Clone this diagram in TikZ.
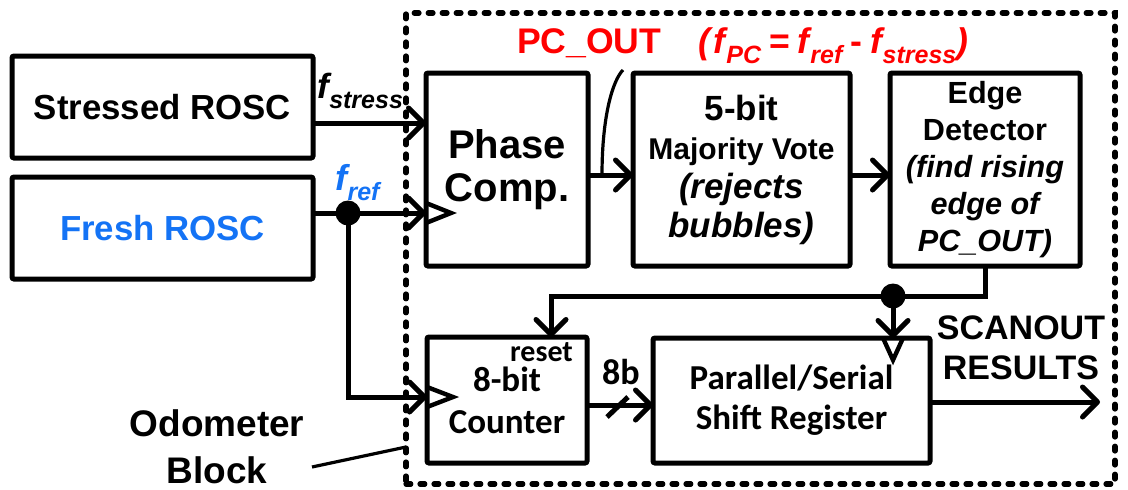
\documentclass[tikz,border=0pt]{standalone}
\usepackage{fontspec}
\setmainfont{Liberation Sans}
\newfontfamily\carlito{Carlito}
\usetikzlibrary{arrows.meta,calc}
\definecolor{sigred}{RGB}{255,0,0}
\definecolor{sigblue}{RGB}{20,115,245}
% frequency symbol: bold italic f with a lowered subscript
\newcommand{\fsub}[1]{{\bfseries\itshape f\kern0.3pt\raisebox{-0.3em}{\fontsize{12.5}{12.5}\selectfont #1}}}
\newcommand{\fsz}[2]{\fontsize{#1}{#2}\selectfont}

\begin{document}
\begin{tikzpicture}[x=0.5pt,y=-0.5pt,
  box/.style={draw,line width=2.5pt,rounded corners=1pt,inner sep=0pt,outer sep=0pt,align=center},
  wire/.style={line width=2.5pt,line join=miter},
  arr/.style={wire,-{Straight Barb[length=7.5pt,width=15pt,round]}},
  clk/.style={line width=2.2pt,line join=miter},
  odo/.style={draw,line width=2.6pt,dash pattern=on 2.4pt off 4.6pt,line cap=round,inner sep=0pt,outer sep=0pt},
  dot/.style={circle,fill,inner sep=0pt,minimum size=12.5pt},
  lbl/.style={inner sep=0pt,outer sep=0pt},
  thin/.style={line width=1.6pt}
]
\useasboundingbox (0,0) rectangle (1128,489);

% the odometer block outline
\node[odo,minimum width=354.5pt,minimum height=235.5pt] (odb) at (760.5,248.5) {};

% oscillators
\node[box,minimum width=150.5pt,minimum height=51pt,font=\bfseries\fsz{17.4}{20}] (sros) at (162.5,107) {Stressed ROSC};
\node[box,minimum width=150.5pt,minimum height=51pt,font=\bfseries\fsz{17.4}{20},text=sigblue] (fros) at (162.5,228) {Fresh ROSC};

% top row
\node[box,minimum width=81pt,minimum height=96.5pt,font=\bfseries\fsz{20}{21.5}] (pc) at (507,169.5) {Phase\\Comp.};
\node[box,minimum width=108.5pt,minimum height=96.5pt,font=\bfseries\fsz{15}{19.5}] (mv) at (741.5,169.5)
  {{\fsz{17.5}{19.5}5-bit}\\Majority Vote\\{\itshape\fsz{17.5}{19.5}(rejects}\\{\itshape\fsz{17.5}{19.5}bubbles)}};
\node[box,minimum width=95pt,minimum height=96.5pt,font=\bfseries\fsz{15.3}{18.5}] (ed) at (985,169.5)
  {Edge\\Detector\\{\itshape(find rising}\\{\itshape edge of}\\{\itshape PC\_OUT)}};

% bottom row
\node[box,minimum width=80pt,minimum height=63pt,font=\carlito\bfseries\fsz{17.5}{21}] (ctr) at (507,400) {8-bit\\Counter};
\node[box,minimum width=138.5pt,minimum height=62.5pt,font=\carlito\bfseries\fsz{17.5}{20}] (sr) at (791.5,400.5) {Parallel/Serial\\Shift Register};

% rows and columns used by the wiring
\coordinate (rowS) at (0,123);
\coordinate (rowR) at (0,213);
\coordinate (rowQ) at (0,175);
\coordinate (rowF) at (0,296);
\coordinate (rowC) at (0,397);
\coordinate (rowK) at (0,405);
\coordinate (rowO) at (0,402);
\coordinate (colR) at (348,0);
\coordinate (colRst) at (551,0);
\coordinate (colD) at (893,0);
\coordinate (outR) at (1100,402);

% signal wires
\draw[arr] (sros.east |- rowS) -- (pc.west |- rowS);
\draw[arr] (fros.east |- rowR) -- (pc.west |- rowR);
\node[dot] (tapR) at (colR |- rowR) {};
\draw[arr] (tapR.center) |- (ctr.west |- rowC);
\draw[arr] (pc.east |- rowQ) -- (mv.west |- rowQ);
\draw[arr] (mv.east |- rowQ) -- (ed.west |- rowQ);
\draw[arr] (ed.south) |- (colRst |- rowF) -- (ctr.north -| colRst);
\node[dot] (tapD) at (colD |- rowF) {};
\draw[arr] (tapD.center) -- (sr.north -| colD);
\draw[arr] (ctr.east |- rowK) -- (sr.west |- rowK);
\draw[arr] (sr.east |- rowO) -- (outR);

% clock input triangles
\draw[clk] ($(pc.west |- rowR)+(0,-10)$) -- ++(25,10) -- ++(-25,10);
\draw[clk] ($(ctr.west |- rowC)+(0,-10)$) -- ++(26,10) -- ++(-26,10);
\draw[clk] ($(sr.north -| colD)+(-10,0)$) -- ++(10,22) -- ++(10,-22);

% 8-bit bus mark
\draw[wire] ($(ctr.east |- rowK)+(20,12)$) -- ++(21,-20);

% PC_OUT tag pointing at the comparator output
\draw[thin] ($(pc.east |- rowQ)+(14,0)$) .. controls +(0,-60) and +(-10,10) .. ++(21,-105);

% labels
\node[lbl,anchor=base west,font=\bfseries\fsz{17.5}{20}] (lS) at (317,98) {\fsub{stress}};
\node[lbl,anchor=base west,font=\bfseries\fsz{18}{20},text=sigblue] (lR) at (335,190) {\fsub{ref}};
\node[lbl,anchor=base west,font=\bfseries\fsz{17.8}{20},text=sigred] (lPC) at (517,53)
  {PC\_OUT\hspace{1.05em}\textit{(}\fsub{PC}\kern4pt=\kern4pt\fsub{ref}\kern4pt-\kern4pt\fsub{stress}\textit{)}};
\node[font=\carlito\bfseries\fsz{15}{15}] (rst) at (541.5,352) {reset};
\node[font=\carlito\bfseries\fsz{18}{18}] (bus) at (621,372) {8b};
\node[align=center,font=\bfseries\fsz{17}{20}] (scan) at (1021,348) {SCANOUT\\RESULTS};
\node[align=center,font=\bfseries\fsz{18.5}{23.5}] (odolbl) at (217,447) {Odometer\\Block};

% pointer from the caption to the block outline
\coordinate (ptrA) at (312,467);
\coordinate (rowP) at (0,447);
\draw[thin] (ptrA) -- (odb.west |- rowP);
\end{tikzpicture}
\end{document}
